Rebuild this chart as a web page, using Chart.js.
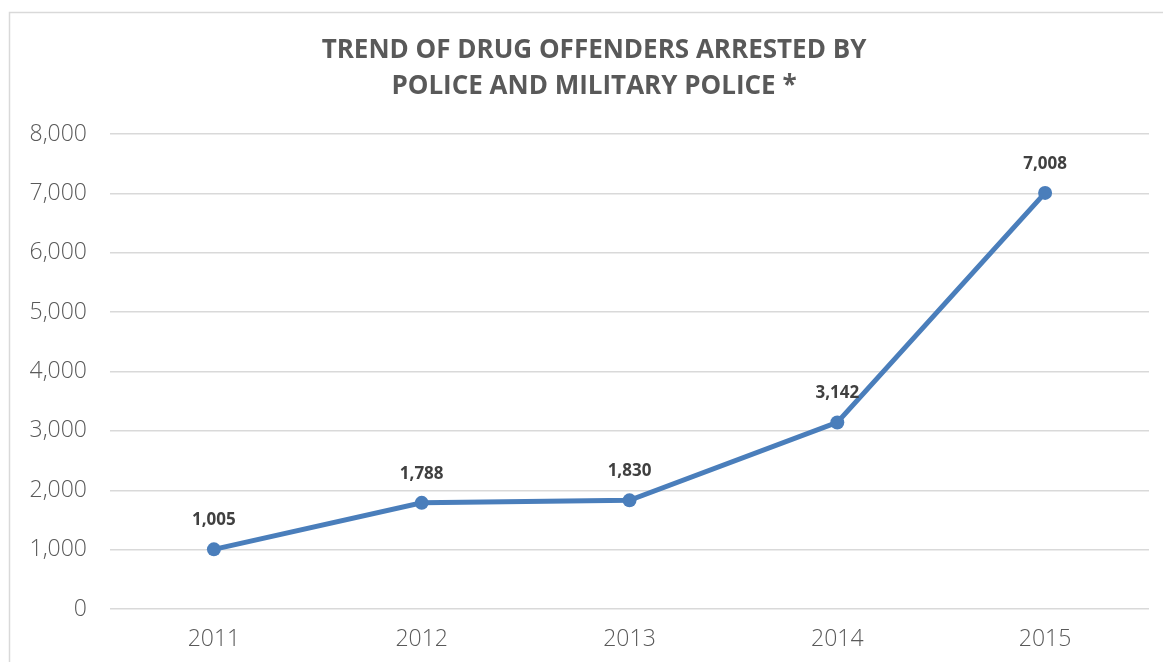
<!DOCTYPE html>
<html>
<head>
<meta charset="utf-8">
<script src="https://cdn.jsdelivr.net/npm/chart.js@4.4.1/dist/chart.umd.min.js"></script>
<style>
  html, body { margin: 0; padding: 0; background: #ffffff; }
  #wrap { position: relative; width: 1163px; height: 662px; }
</style>
</head>
<body>
<div id="wrap"><canvas id="c" width="1163" height="662"></canvas></div>
<script>
const titleLines = ['TREND OF DRUG OFFENDERS ARRESTED BY', 'POLICE AND MILITARY POLICE *'];
const years = ['2011', '2012', '2013', '2014', '2015'];
const offenders = [1005, 1788, 1830, 3142, 7008];
const yTicks = [0, 1000, 2000, 3000, 4000, 5000, 6000, 7000, 8000];

const FONT = "'Open Sans', 'DejaVu Sans', sans-serif";
const fmt = v => v.toLocaleString('en-US');

const frameAndTitle = {
  id: 'frameAndTitle',
  beforeDraw(chart) {
    const ctx = chart.ctx;
    ctx.save();
    ctx.fillStyle = '#ffffff';
    ctx.fillRect(0, 0, chart.width, chart.height);
    ctx.strokeStyle = '#d9d9d9';
    ctx.lineWidth = 1.5;
    ctx.beginPath();
    ctx.moveTo(9.5, chart.height);
    ctx.lineTo(9.5, 12.5);
    ctx.lineTo(chart.width, 12.5);
    ctx.stroke();
    ctx.restore();
  },
  afterDraw(chart) {
    const ctx = chart.ctx;
    ctx.save();
    ctx.fillStyle = '#595959';
    ctx.font = 'bold 26px ' + FONT;
    ctx.textAlign = 'center';
    ctx.textBaseline = 'middle';
    ctx.fillText(titleLines[0], 594, 51);
    ctx.fillText(titleLines[1], 594, 87);
    ctx.restore();
  }
};

const dataLabels = {
  id: 'dataLabels',
  afterDatasetsDraw(chart) {
    const ctx = chart.ctx;
    const meta = chart.getDatasetMeta(0);
    const ds = chart.data.datasets[0].data;
    ctx.save();
    ctx.fillStyle = '#404040';
    ctx.font = 'bold 17px ' + FONT;
    ctx.textAlign = 'center';
    ctx.textBaseline = 'middle';
    meta.data.forEach((pt, i) => {
      ctx.fillText(fmt(ds[i]), pt.x, pt.y - 29);
    });
    ctx.restore();
  }
};

new Chart(document.getElementById('c'), {
  type: 'line',
  data: {
    labels: years,
    datasets: [{
      data: offenders,
      borderColor: '#4a7ebb',
      backgroundColor: '#4a7ebb',
      borderWidth: 5,
      pointRadius: 7,
      pointHoverRadius: 7,
      pointBackgroundColor: '#4a7ebb',
      pointBorderWidth: 0,
      tension: 0,
      fill: false
    }]
  },
  options: {
    responsive: false,
    animation: false,
    layout: { padding: { left: 10, right: 14, top: 134, bottom: 0 } },
    plugins: { legend: { display: false }, title: { display: false }, tooltip: { enabled: false } },
    scales: {
      x: {
        offset: true,
        grid: { display: false, drawTicks: false },
        border: { display: false },
        ticks: { color: '#595959', font: { family: FONT, size: 23, weight: 300 }, padding: 17 },
        afterFit(scale) { scale.height = 53; }
      },
      y: {
        min: 0, max: 8000,
        afterBuildTicks(scale) { scale.ticks = yTicks.map(v => ({ value: v })); },
        grid: { color: '#d9d9d9', lineWidth: 1.5, drawTicks: false },
        border: { display: false },
        ticks: { color: '#595959', font: { family: FONT, size: 23, weight: 300 }, padding: 23, callback: v => fmt(v) },
        afterFit(scale) { scale.width = 100; }
      }
    }
  },
  plugins: [frameAndTitle, dataLabels]
});
</script>
</body>
</html>
